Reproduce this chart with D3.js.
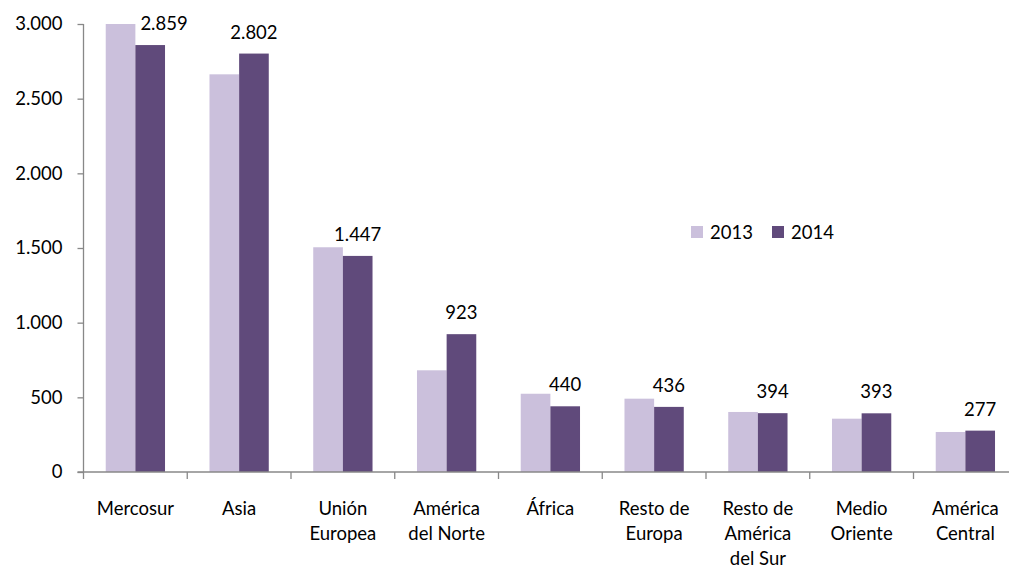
<!DOCTYPE html>
<html><head><meta charset="utf-8">
<script src="https://cdn.jsdelivr.net/npm/d3@7"></script>
<style>
html,body{margin:0;padding:0;background:#fff;}
svg{display:block;font-family:Lato,"Open Sans",sans-serif;}
</style></head>
<body>
<svg id="chart" width="1009" height="570"></svg>
<script>
const categories = [["Mercosur"],["Asia"],["Unión","Europea"],["América","del Norte"],["África"],["Resto de","Europa"],["Resto de","América","del Sur"],["Medio","Oriente"],["América","Central"]];
const series = ["2013","2014"];
const values2013 = [3000, 2663, 1505, 681, 524, 491, 402, 357, 268];
const values2014 = [2859, 2802, 1447, 923, 440, 436, 394, 393, 277];
const yTicks = [0, 500, 1000, 1500, 2000, 2500, 3000];
const colors = ["#cbc0dc", "#604a7b"];

(function(){
const svg = d3.select("#chart");
const fs = 18.5;
const pLeft = 83.5, pTop = 24, pBottom = 472;
const catW = 103.75;
const names = categories.map(c => c.join(" "));
const x0 = d3.scaleBand().domain(names).range([pLeft, pLeft + catW * names.length]).padding(0);
const x1 = d3.scaleBand().domain(series).range([0, x0.bandwidth()]).paddingInner(0).paddingOuter(0.75);
const y = d3.scaleLinear().domain([0, 3000]).range([pBottom, pTop]);
const fmt = v => d3.format(",")(v).replace(/,/g, ".");

// bars
const data = names.map((n, i) => ({name: n, vals: [values2013[i], values2014[i]]}));
const g = svg.append("g");
data.forEach(d => {
  d.vals.forEach((v, j) => {
    g.append("rect")
      .attr("x", x0(d.name) + x1(series[j]))
      .attr("y", y(v))
      .attr("width", x1.bandwidth())
      .attr("height", y(0) - y(v))
      .attr("fill", colors[j]);
  });
});

// y axis
const yAxis = d3.axisLeft(y).tickValues(yTicks).tickSize(6).tickPadding(15).tickFormat(fmt);
const ya = svg.append("g").attr("transform", `translate(${pLeft},0)`).call(yAxis);
ya.selectAll("path,line").attr("stroke", "#888").attr("stroke-width", 1.3);
ya.select(".domain").attr("d", `M0,${pTop}V${pBottom}`);
ya.selectAll("text").attr("font-family", "Lato").attr("font-size", fs).attr("fill", "#000");

// x axis
const xa = svg.append("g").attr("transform", `translate(0,${pBottom})`);
xa.append("line").attr("x1", pLeft - 6).attr("x2", x0.range()[1]).attr("y1", 0).attr("y2", 0).attr("stroke", "#888").attr("stroke-width", 1.3);
names.forEach(n => {
  xa.append("line").attr("x1", x0(n)).attr("x2", x0(n)).attr("y1", 0).attr("y2", 7).attr("stroke", "#888").attr("stroke-width", 1.3);
});
categories.forEach((c, i) => {
  const cx = x0(names[i]) + x0.bandwidth() / 2;
  const t = xa.append("text").attr("text-anchor", "middle").attr("font-size", fs).attr("fill", "#000");
  c.forEach((line, k) => {
    t.append("tspan").attr("x", cx).attr("y", 43 + k * 25).text(line);
  });
});

// data labels on 2014
data.forEach((d, i) => {
  const v = d.vals[1];
  const bx = x0(d.name) + x1(series[1]);
  const ly = y(v) - 15;
  const prevTop = y(d.vals[0]);
  let anchor = "middle", lx = bx + x1.bandwidth() / 2;
  if (prevTop < ly) { anchor = "start"; lx = bx + 5; }
  svg.append("text").attr("x", lx).attr("y", ly).attr("text-anchor", anchor)
    .attr("font-size", fs).attr("fill", "#000").text(fmt(v));
});

// legend
const lg = svg.append("g").attr("transform", "translate(691,226)");
series.forEach((s, j) => {
  const off = j * 81;
  lg.append("rect").attr("x", off).attr("y", 0).attr("width", 12).attr("height", 12).attr("fill", colors[j]);
  lg.append("text").attr("x", off + 19).attr("y", 13).attr("font-size", fs).attr("fill", "#000").text(s);
});
})();
</script>
</body></html>
